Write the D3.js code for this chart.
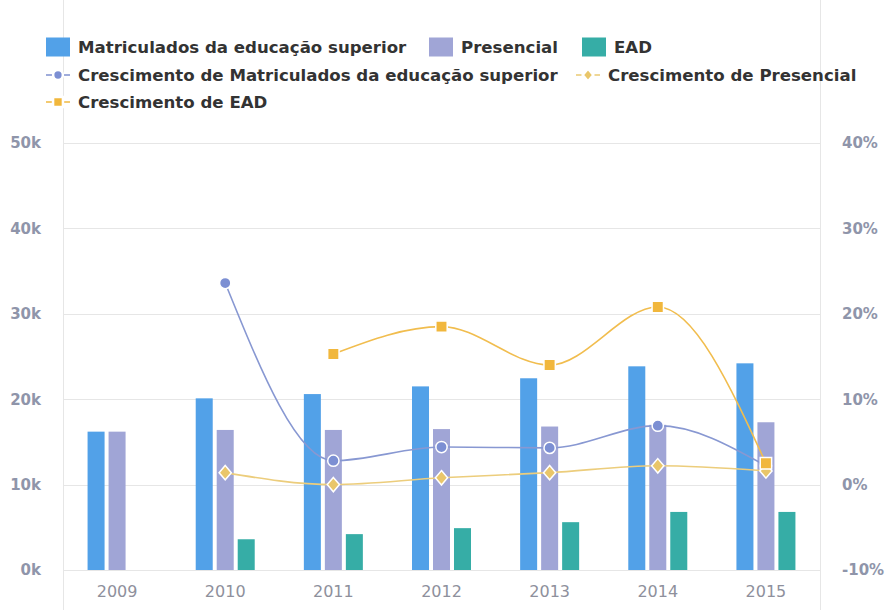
<!DOCTYPE html>
<html>
<head>
<meta charset="utf-8">
<script src="https://cdn.jsdelivr.net/npm/d3@7/dist/d3.min.js"></script>
<style>
  body { margin: 0; background: #fff; }
  svg { display: block; font-family: "DejaVu Sans", Verdana, sans-serif; }
</style>
</head>
<body>
<svg class="chart"></svg>
<script>
const width = 889;
const height = 610;

// data
const years = ["2009", "2010", "2011", "2012", "2013", "2014", "2015"];
const matriculados = [16200, 20100, 20600, 21500, 22450, 23850, 24200];
const presencial = [16200, 16400, 16400, 16500, 16800, 17000, 17300];
const ead = [null, 3600, 4200, 4900, 5600, 6800, 6800];
const crescMatriculados = [null, 23.6, 2.8, 4.4, 4.3, 6.9, 2.2];
const crescPresencial = [null, 1.4, 0.0, 0.8, 1.4, 2.2, 1.6];
const crescEad = [null, null, 15.3, 18.5, 14.0, 20.8, 2.5];
const leftTicks = [0, 10000, 20000, 30000, 40000, 50000];
const rightTicks = [-10, 0, 10, 20, 30, 40];

// wider diamond than d3's own, like the reference marker
const diamond = {
  draw(ctx, size) {
    const h = Math.sqrt(size) * 0.72, w = h * 0.85;
    ctx.moveTo(0, -h); ctx.lineTo(w, 0); ctx.lineTo(0, h); ctx.lineTo(-w, 0); ctx.closePath();
  }
};

const barSeries = [
  { name: "Matriculados da educação superior", values: matriculados, color: "#52a1e8" },
  { name: "Presencial", values: presencial, color: "#a0a5d6" },
  { name: "EAD", values: ead, color: "#36ada6" }
];
const lineSeries = [
  { name: "Crescimento de Matriculados da educação superior", values: crescMatriculados, color: "#7c8fd3", line: "#8898d2", symbol: d3.symbolCircle, size: 100 },
  { name: "Crescimento de Presencial", values: crescPresencial, color: "#e9c66a", line: "#eccd7c", symbol: diamond, size: 100 },
  { name: "Crescimento de EAD", values: crescEad, color: "#f1b73c", line: "#f1bd4e", symbol: d3.symbolSquare, size: 130 }
];

const plot = { left: 63, right: 820, top: 143, bottom: 570 };

const svg = d3.select(".chart").attr("width", width).attr("height", height);

const x = d3.scaleBand().domain(years).range([plot.left, plot.right]);
const inner = d3.scaleBand().domain(d3.range(barSeries.length))
  .range([x.bandwidth() / 2 - 29.5, x.bandwidth() / 2 + 29.5]).paddingInner(0.19);
const y = d3.scaleLinear().domain([0, 50000]).range([plot.bottom, plot.top]);
const y2 = d3.scaleLinear().domain([-10, 40]).range([plot.bottom, plot.top]);

// frame lines
svg.append("line").attr("x1", plot.left + 0.5).attr("x2", plot.left + 0.5).attr("y1", 0).attr("y2", height)
  .attr("stroke", "#e6e6e6");
svg.append("line").attr("x1", plot.right + 0.5).attr("x2", plot.right + 0.5).attr("y1", 0).attr("y2", height)
  .attr("stroke", "#e6e6e6");

// grid
svg.append("g").selectAll("line").data(leftTicks).join("line")
  .attr("x1", plot.left).attr("x2", plot.right)
  .attr("y1", d => Math.round(y(d)) + 0.5).attr("y2", d => Math.round(y(d)) + 0.5)
  .attr("stroke", "#e6e6e6");

// left axis
const axisL = svg.append("g").attr("transform", `translate(${plot.left},0)`)
  .call(d3.axisLeft(y).tickValues(leftTicks).tickFormat(d => (d / 1000) + "k").tickSize(0).tickPadding(22));
axisL.select(".domain").remove();
axisL.selectAll("text").attr("font-size", 15).attr("font-weight", "bold")
  .attr("fill", "#8f95aa").attr("font-family", "DejaVu Sans");

// right axis
const axisR = svg.append("g").attr("transform", `translate(${plot.right},0)`)
  .call(d3.axisRight(y2).tickValues(rightTicks).tickFormat(d => d + "%").tickSize(0).tickPadding(22));
axisR.select(".domain").remove();
axisR.selectAll("text").attr("font-size", 15).attr("font-weight", "bold")
  .attr("fill", "#8f95aa").attr("font-family", "DejaVu Sans");

// bottom axis
const axisB = svg.append("g").attr("transform", `translate(0,${plot.bottom})`)
  .call(d3.axisBottom(x).tickSize(0).tickPadding(16));
axisB.select(".domain").remove();
axisB.selectAll("text").attr("font-size", 16).attr("fill", "#8e909c")
  .attr("font-family", "DejaVu Sans");

// bars
barSeries.forEach((s, i) => {
  svg.append("g").selectAll("rect")
    .data(years.map((yr, j) => ({ yr, v: s.values[j] })).filter(d => d.v != null))
    .join("rect")
    .attr("x", d => x(d.yr) + inner(i))
    .attr("width", inner.bandwidth())
    .attr("y", d => y(d.v))
    .attr("height", d => y(0) - y(d.v))
    .attr("fill", s.color);
});

// growth lines
const line = d3.line()
  .defined(d => d.v != null)
  .x(d => x(d.yr) + x.bandwidth() / 2)
  .y(d => y2(d.v))
  .curve(d3.curveMonotoneX);

lineSeries.forEach(s => {
  const pts = years.map((yr, j) => ({ yr, v: s.values[j] }));
  const g = svg.append("g");
  g.append("path").datum(pts).attr("d", line)
    .attr("fill", "none").attr("stroke", s.line).attr("stroke-width", 1.6);
  g.selectAll("path.pt").data(pts.filter(d => d.v != null)).join("path")
    .attr("class", "pt")
    .attr("transform", d => `translate(${x(d.yr) + x.bandwidth() / 2},${y2(d.v)})`)
    .attr("d", d3.symbol(s.symbol, s.size))
    .attr("fill", s.color).attr("stroke", "#fff").attr("stroke-width", 1.5);
});

// legend
const legendItems = [
  { s: barSeries[0], type: "bar", x: 46, row: 0 },
  { s: barSeries[1], type: "bar", x: 429, row: 0 },
  { s: barSeries[2], type: "bar", x: 582, row: 0 },
  { s: lineSeries[0], type: "line", x: 46, row: 1 },
  { s: lineSeries[1], type: "line", x: 576, row: 1 },
  { s: lineSeries[2], type: "line", x: 46, row: 2 }
];
const rowY = [47, 75, 102];
const legend = svg.append("g");
legendItems.forEach(it => {
  const cy = rowY[it.row];
  const g = legend.append("g");
  if (it.type === "bar") {
    g.append("rect").attr("x", it.x).attr("y", cy - 9.5).attr("width", 24).attr("height", 19)
      .attr("fill", it.s.color);
  } else {
    g.append("line").attr("x1", it.x).attr("x2", it.x + 24).attr("y1", cy).attr("y2", cy)
      .attr("stroke", it.s.line).attr("stroke-width", 1.6);
    g.append("path").attr("transform", `translate(${it.x + 12},${cy})`)
      .attr("d", d3.symbol(it.s.symbol, it.s.size * 0.75))
      .attr("fill", it.s.color).attr("stroke", "#fff").attr("stroke-width", 2.5);
  }
  g.append("text").attr("x", it.x + 32).attr("y", cy).attr("dy", "0.35em")
    .attr("font-size", 16.6).attr("font-weight", "bold").attr("fill", "#333")
    .text(it.s.name);
});
</script>
</body>
</html>
